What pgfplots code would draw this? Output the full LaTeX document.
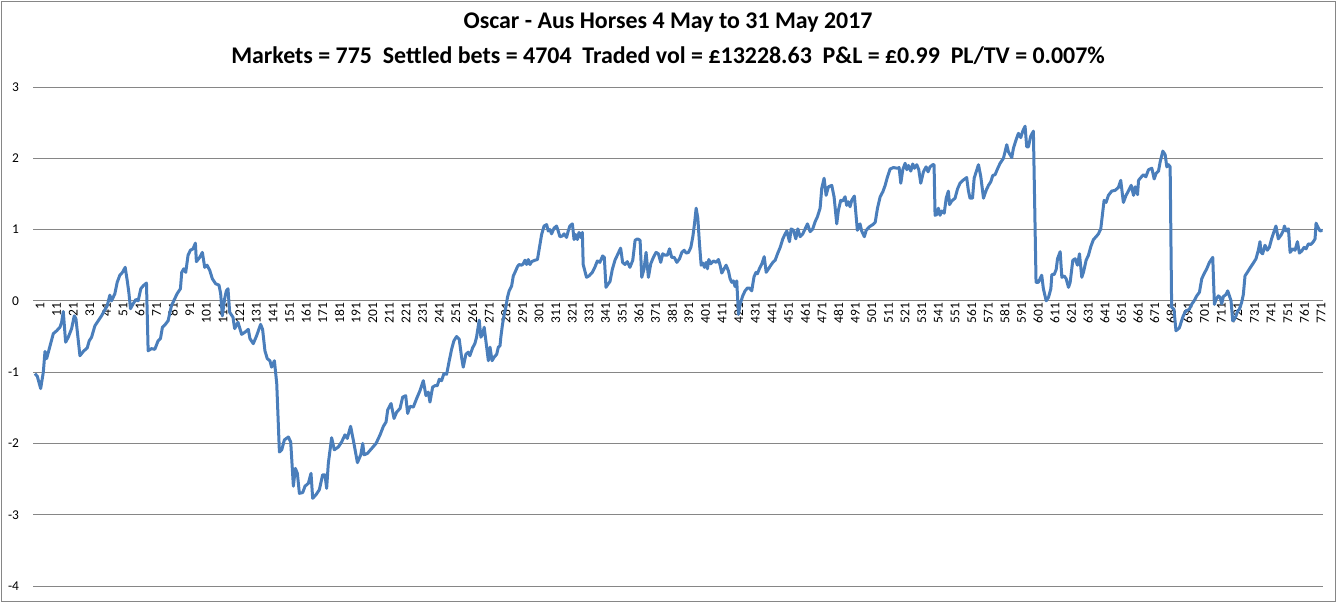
\documentclass[border=0pt]{standalone}
\usepackage{fontspec}
\setmainfont{Carlito}
\usepackage{pgfplots}
\pgfplotsset{compat=1.18}
\definecolor{xlblue}{RGB}{74,126,187}
\definecolor{xlgrid}{RGB}{134,134,134}
\begin{document}
\begin{tikzpicture}
\path[use as bounding box] (-33.34bp,-17bp) rectangle (1303.66bp,586bp);
\draw[xlgrid,line width=0.75bp] (-32.34bp,-15bp) rectangle (1301.66bp,585bp);
\node[font=\bfseries\fontsize{24}{28}\selectfont] at (634.7bp,563bp) {Oscar - Aus Horses 4 May to 31 May 2017};
\node[font=\bfseries\fontsize{24}{28}\selectfont] at (634.7bp,530bp) {Markets = 775~ Settled bets = 4704~ Traded vol = £13228.63~ P\&L = £0.99~ PL/TV = 0.007\%};
\begin{axis}[
  at={(0,0)}, anchor=south west,
  scale only axis, width=1289.3bp, height=499bp,
  xmin=0, xmax=775, ymin=-4, ymax=3,
  axis x line=middle, axis y line=left,
  axis line style={draw=none}, tick style={draw=none},
  hide obscured x ticks=false, hide obscured y ticks=false,
  xtick={1,11,...,771},
  ytick={-4,-3,-2,-1,0,1,2,3},
  yticklabels={-4,-3,-2,-1,0,1,2,3},
  ymajorgrids, grid style={xlgrid,line width=0.75bp},
  /pgf/number format/assume math mode=true,
  tick label style={font=\fontsize{13.5}{15}\selectfont, text=black},
  xticklabel style={rotate=90, anchor=east, inner sep=0pt, yshift=-5bp},
  yticklabel style={anchor=east, inner sep=0pt, xshift=-12bp},
]
\addplot[xlblue, line width=3bp, line join=round, mark=none] coordinates {
(1,-1.02)(2.4,-1.06)(4.4,-1.23)(6,-1.0)(7,-0.71)(8,-0.81)(9.6,-0.67)(12,-0.46)(14,-0.42)(16,-0.37)(17,-0.30)(18,-0.15)(19.4,-0.58)(21,-0.51)(23,-0.39)(24.6,-0.21)(25.6,-0.25)(28,-0.77)(30,-0.71)(32.4,-0.66)(33.6,-0.56)(35,-0.51)(37,-0.35)(39,-0.28)(41,-0.21)(42.4,-0.15)(44.4,-0.07)(46,0.08)(47,0.0)(49,0.10)(50.4,0.26)(52,0.36)(53.6,0.40)(55.2,0.47)(56.4,0.29)(57.4,0.12)(58.4,-0.11)(60,-0.04)(61.6,0.02)(63,0.0)(64.6,0.17)(66,0.21)(68,0.25)(69,-0.70)(71,-0.67)(73,-0.68)(75,-0.56)(76.4,-0.53)(77.6,-0.37)(79,-0.34)(81,-0.28)(83,-0.07)(84.4,0.0)(86.4,0.10)(88.4,0.17)(89.2,0.40)(90.4,0.45)(91.6,0.40)(93,0.64)(94.4,0.71)(96,0.73)(97.4,0.81)(98,0.55)(100,0.61)(101.6,0.68)(103,0.47)(104.4,0.50)(106,0.43)(107.6,0.31)(109.6,0.24)(111.6,0.22)(112.6,0.10)(113.6,-0.21)(115,0.03)(116,0.14)(117,0.17)(118,-0.16)(120,-0.23)(121,-0.39)(123,-0.30)
(125.2,-0.47)(127.2,-0.44)(129.2,-0.40)(130.2,-0.53)(132.2,-0.60)(134.2,-0.49)(136.6,-0.33)(137.8,-0.40)(139.2,-0.70)(140.6,-0.81)(142.2,-0.84)(143.2,-0.93)(144.9,-0.84)(146.3,-1.16)(147.9,-2.12)(149.3,-2.09)(150.9,-1.95)(153.3,-1.91)(154.7,-1.98)(156.3,-2.60)(157.5,-2.35)(158.7,-2.42)(159.9,-2.70)(161.9,-2.69)(163.3,-2.60)(165.3,-2.56)(166.9,-2.42)(167.9,-2.77)(169.9,-2.72)(171.9,-2.65)(173.9,-2.44)(175.3,-2.44)(176.3,-2.63)(177.3,-2.28)(179.3,-1.92)(180.9,-2.09)(183.3,-2.05)(185.3,-1.98)(187.3,-1.88)(188.7,-1.93)(190.7,-1.76)(192.3,-1.95)(194.8,-2.27)(196.8,-2.16)(198,-2.00)(198.8,-2.16)(200.8,-2.14)(203.4,-2.07)(206,-2.00)(208.4,-1.88)(210.4,-1.76)(212,-1.70)(213,-1.53)(215,-1.44)(216.8,-1.65)(218.4,-1.56)(220.4,-1.51)(222,-1.35)(223.8,-1.33)(225,-1.58)(226.4,-1.48)(228.4,-1.49)(230.4,-1.37)(232.4,-1.26)(234.4,-1.12)(236,-1.33)(237.4,-1.28)(238.4,-1.42)
(240,-1.21)(241.4,-1.19)(242.8,-1.19)(244,-1.10)(245.4,-1.12)(246.8,-1.02)(248.4,-1.03)(250,-0.84)(251.4,-0.68)(252.8,-0.56)(254.4,-0.50)(256,-0.54)(257.4,-0.79)(258.4,-0.93)(260,-0.75)(261.4,-0.72)(262.4,-0.77)(264,-0.66)(265.4,-0.60)(266.4,-0.51)(268,-0.27)(269,-0.51)(270,-0.47)(271,-0.37)(272,-0.56)(273.5,-0.84)(274.5,-0.65)(275.7,-0.84)(277,-0.79)(278.5,-0.75)(279.5,-0.65)(280.5,-0.63)(281,-0.51)(282,-0.33)(283,-0.19)(284,-0.09)(285,0.05)(286,0.14)(287.5,0.21)(288.5,0.35)(289.5,0.40)(291,0.48)(292,0.51)(293.5,0.50)(294.5,0.52)(295.5,0.57)(296.5,0.51)(297.5,0.58)(298.5,0.51)(299.5,0.55)(301.5,0.57)(303,0.58)(304.5,0.79)(305.5,0.93)(307,1.05)(308.5,1.07)(309.5,0.98)(310.5,1.00)(311.5,0.94)(313,1.02)(314.5,1.05)(315.5,0.98)(316.5,0.90)(318,0.91)(319,0.94)(320.5,0.89)(321.5,0.98)(322.5,1.05)(324,1.08)(325,0.86)(326,0.93)(327,0.86)(328,0.96)(329,0.89)(330,0.96)(330.5,0.51)(331.5,0.42)(332.5,0.33)(334,0.35)(336,0.40)(337.5,0.47)(339,0.56)(340.5,0.54)(342.2,0.63)(343.2,0.61)(344.2,0.19)(345.6,0.24)(346.6,0.27)(348,0.44)(349.6,0.57)(351.2,0.65)(353,0.74)(354.2,0.54)(355.6,0.51)(357,0.55)(358.6,0.47)
(360.3,0.57)(361.7,0.85)(363.1,0.87)(364.7,0.85)(365.7,0.33)(367.1,0.45)(368.3,0.68)(369.7,0.33)(371.1,0.52)(372.7,0.61)(374.3,0.68)(375.7,0.66)(377.1,0.54)(378.3,0.66)(379.7,0.64)(381.1,0.64)(382.4,0.73)(383.7,0.61)(385.2,0.61)(386.8,0.54)(388.4,0.59)(389.8,0.68)(391.2,0.71)(392.4,0.67)(393.8,0.68)(395.2,0.75)(396.4,0.90)(397.4,1.08)(398.4,1.30)(399.4,1.16)(400.4,0.80)(401.4,0.50)(402.4,0.53)(403.4,0.47)(404.4,0.54)(405.2,0.45)(406,0.58)(407.2,0.52)(408.8,0.56)(410.4,0.54)(411.8,0.58)(412.8,0.50)(413.8,0.39)(415.2,0.45)(416.4,0.50)(417.8,0.42)(418.8,0.31)(419.8,0.26)(420.8,0.28)(421.8,0.20)(422.8,0.28)(423.8,-0.19)(424.8,-0.05)(426.4,0.07)(427.8,0.14)(429.2,0.18)(430.4,0.18)(431.8,0.14)(433.2,0.34)(434.4,0.40)(435.2,0.38)(436.4,0.45)(437.9,0.52)(439.3,0.62)(440.5,0.40)(441.9,0.45)(443.3,0.50)(444.5,0.54)(445.9,0.57)(447.3,0.66)(448.9,0.75)(450.5,0.87)(451.9,0.94)(452.9,0.98)(454.5,0.83)(455.5,1.01)(456.9,0.99)(458.3,0.87)(459.5,1.01)(460.9,0.90)(462.5,0.94)(463.9,1.01)(465.3,1.08)(466.9,0.97)(468.5,1.01)(469.9,1.11)(471.3,1.18)(472.9,1.30)
(473.9,1.58)(475.3,1.72)(476.5,1.48)(477.9,1.60)(479.9,1.62)(481.3,1.46)(482.9,1.08)(483.9,1.27)(485.3,1.41)(486.5,1.40)(487.9,1.46)(488.9,1.34)(489.9,1.39)(490.9,1.32)(491.9,1.41)(493.5,1.47)(495.3,0.99)(496.9,1.08)(497.9,0.98)(499.5,0.90)(500.6,0.99)(502.6,1.04)(504.6,1.07)(506,1.10)(507.4,1.30)(509,1.46)(510.6,1.53)(512,1.62)(513.4,1.74)(515,1.85)(517,1.87)(519.4,1.86)(520.4,1.87)(521.4,1.65)(522.6,1.84)(524,1.93)(525,1.84)(526,1.90)(527.4,1.82)(528.6,1.92)(529.6,1.86)(531,1.91)(532.2,1.84)(533.4,1.65)(535,1.81)(536.6,1.88)(537.8,1.81)(539,1.88)(540.6,1.91)(541.4,1.91)(542,1.20)(543,1.21)(544,1.30)(545,1.20)(546,1.26)(547.5,1.23)(548.7,1.44)(550,1.54)(550.7,1.35)(552,1.40)(554,1.44)(555.5,1.57)(557,1.65)(558.7,1.69)(561,1.73)(562,1.55)(563,1.44)(564.5,1.44)(565.5,1.72)(566.7,1.81)(568.1,1.91)(569.5,1.74)(571.1,1.44)(572.7,1.55)(574.1,1.62)(575.5,1.67)(576.7,1.76)(578.1,1.77)(579.5,1.85)(581.1,1.93)
(583.1,2.0)(585.1,2.19)(586.1,2.09)(588.1,2.01)(589.1,2.14)(590.7,2.26)(592.1,2.35)(593.5,2.29)(594.7,2.38)(596.1,2.45)(597.1,2.16)(598.1,2.16)(599.5,2.31)(601.1,2.38)(602.7,0.26)(604.1,0.26)(605.1,0.31)(606.1,0.36)(607.1,0.17)(608.8,0.0)(610.2,0.05)(611.6,0.17)(612.2,0.37)(613.6,0.37)(614.8,0.44)(615.6,0.59)(617.2,0.69)(618.2,0.33)(619.6,0.35)(620.8,0.31)(622.2,0.19)(623.2,0.26)(624.8,0.57)(626.2,0.59)(627.6,0.50)(628.8,0.66)(630.2,0.33)(631.2,0.40)(632.8,0.57)(634.2,0.64)(635.6,0.76)(637.2,0.86)(638.8,0.90)(640.2,0.94)(641.6,1.01)(642.8,1.25)(643.6,1.41)(644.8,1.38)(646.2,1.48)(648.2,1.54)(650.2,1.55)(652.2,1.59)(653.6,1.69)(655.2,1.38)(656.8,1.48)(658.2,1.54)(659.9,1.62)(661.3,1.48)(662.3,1.60)(663.7,1.49)(664.3,1.69)(665.7,1.73)(667.3,1.77)(668.7,1.74)(670.3,1.84)(672.3,1.86)(673.7,1.71)(674.9,1.79)(676.3,1.82)(677.3,1.95)(678.9,2.10)(680.3,2.05)(681.3,1.88)(682.3,1.91)(683.3,1.88)
(684.2,-0.09)(685.6,-0.12)(686.8,-0.42)(688.8,-0.38)(690.2,-0.28)(691.2,-0.21)(692.8,-0.14)(694.8,-0.12)(696.2,-0.05)(697.7,0.0)(699.3,0.07)(700.9,0.12)(702.3,0.31)(703.7,0.38)(705.3,0.45)(706.9,0.54)(708.9,0.61)(709.9,-0.05)(710.9,0.02)(712.3,0.07)(713.3,0.05)(714.3,-0.04)(715.3,0.06)(716.9,0.09)(717.9,0.14)(718.9,0.07)(719.9,0.0)(720.9,-0.28)(721.9,-0.26)(722.9,-0.21)(723.9,-0.14)(724.9,-0.12)(726.3,-0.02)(727.3,0.09)(728.3,0.35)(729.7,0.40)(731.3,0.46)(733.3,0.53)(734.9,0.59)(736.3,0.71)(737.3,0.83)(737.9,0.68)(738.9,0.66)(740.3,0.78)(741.7,0.71)(742.9,0.75)(744.3,0.87)(745.7,0.97)(746.9,1.05)(748.3,0.87)(749.9,0.92)(751.4,0.99)(752,1.05)(753,0.98)(754.4,1.01)(755.4,0.68)(757,0.73)(758.4,0.71)(759.8,0.83)(761,0.67)(762.4,0.70)(763.8,0.75)(765,0.73)(766.4,0.80)(767.8,0.79)(769.4,0.83)(770.4,0.87)(771,1.09)(772,1.04)(773.4,0.98)(775,0.99)
};
\end{axis}
\end{tikzpicture}
\end{document}
